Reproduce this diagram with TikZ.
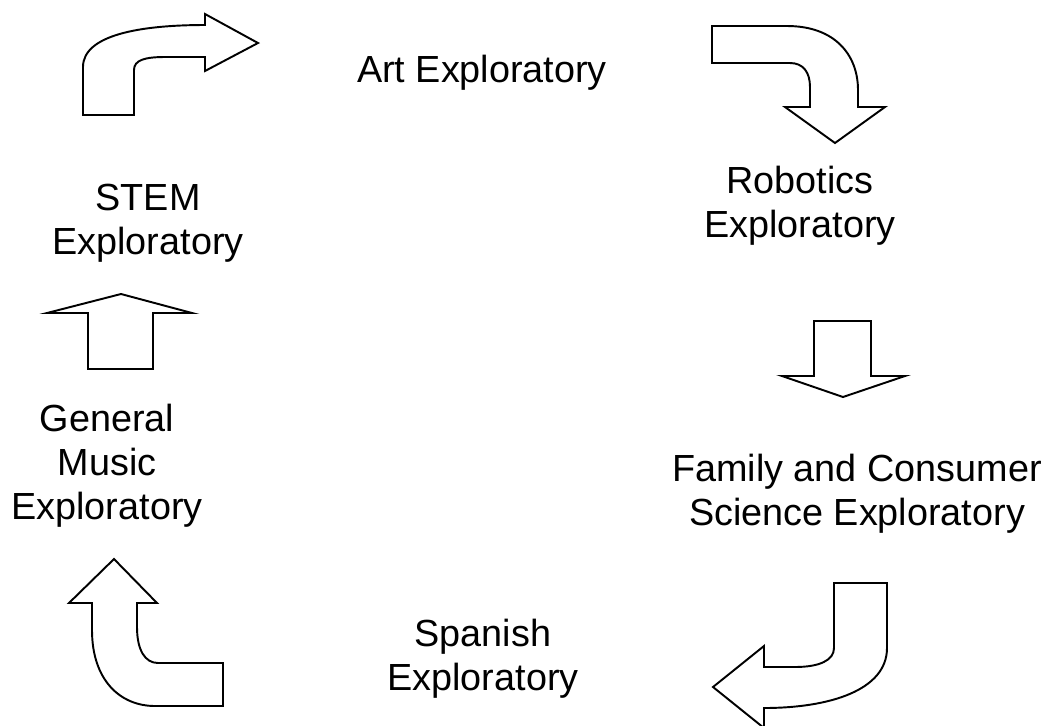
\documentclass[tikz,border=0pt]{standalone}
\usepackage{fontspec}
\setmainfont{Liberation Sans}
\usepackage{tikz}
\usetikzlibrary{positioning}

\begin{document}
\begin{tikzpicture}[
    x=0.02cm, y=-0.02cm,
    blockarrow/.style={draw=black, fill=white, line width=1.1pt, line join=miter},
    stage/.style={font=\fontsize{21.5}{25}\selectfont, align=center, anchor=base, inner sep=0pt}
]
\useasboundingbox (0,0) rectangle (1049,725);

% =========================================================================
% TEXTOS (base = linha de base da última linha)
% =========================================================================
\node[stage] (art)    at (482, 82)  {Art Exploratory};
\node[stage] (robot)  at (800, 237) {Robotics\\Exploratory};
\node[stage] (family) at (857, 525) {Family and Consumer\\Science Exploratory};
\node[stage] (spanish) at (483, 690) {Spanish\\Exploratory};
\node[stage] (music)  at (107, 519) {General\\Music\\Exploratory};
\node[stage] (stem)   at (148, 254) {STEM\\Exploratory};

% =========================================================================
% SETAS
% =========================================================================
% cima esquerda: sobe e vira para a direita
\draw[blockarrow] (83,115) -- (83,67) .. controls (83,35) and (140,25) .. (205,25)
    -- (205,14) -- (258,43) -- (205,71) -- (205,57) -- (165,57)
    .. controls (145,57) and (134,60) .. (134,70) -- (134,115) -- cycle;

% cima direita: para a direita e desce
\draw[blockarrow] (712,26) -- (787,26) .. controls (835,26) and (858,55) .. (858,90)
    -- (858,107) -- (885,107) -- (835,143) -- (785,107) -- (810,107) -- (810,87)
    .. controls (810,72) and (803,63) .. (790,63) -- (712,63) -- cycle;

% direita: para baixo
\draw[blockarrow] (814,321) -- (871,321) -- (871,376) -- (905,376) -- (843,397)
    -- (782,376) -- (814,376) -- cycle;

% baixo direita: desce e vira para a esquerda
\draw[blockarrow] (834,583) -- (887,583) -- (887,648)
    .. controls (887,690) and (830,708) .. (764,708) -- (764,728) -- (713,687)
    -- (764,646) -- (764,667) -- (795,667) .. controls (820,667) and (834,660) .. (834,648)
    -- cycle;

% baixo esquerda: para a esquerda e sobe
\draw[blockarrow] (223,663) -- (223,706) -- (155,706)
    .. controls (120,706) and (92,680) .. (92,630) -- (92,603) -- (69,603) -- (114,559)
    -- (157,603) -- (137,603) -- (137,627) .. controls (137,650) and (145,663) .. (158,663)
    -- cycle;

% esquerda: para cima
\draw[blockarrow] (88,369) -- (88,313) -- (47,313) -- (121,294) -- (192,313)
    -- (153,313) -- (153,369) -- cycle;

\end{tikzpicture}
\end{document}
